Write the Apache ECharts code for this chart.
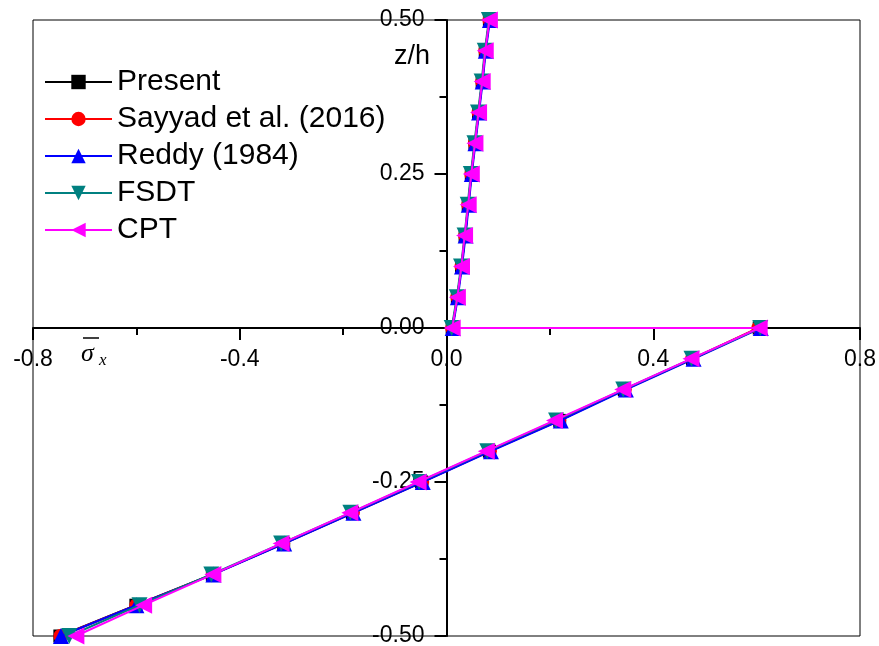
<!DOCTYPE html>
<html><head><meta charset="utf-8">
<script src="https://cdn.jsdelivr.net/npm/echarts@6/dist/echarts.min.js"></script>
<style>html,body{margin:0;padding:0;background:#fff}#c{width:879px;height:646px}</style>
</head><body><div id="c"></div>
<script>
// z/h positions: top half (0.5 -> 0) then bottom half (0 -> -0.5)
const zValues = [0.5,0.45,0.4,0.35,0.3,0.25,0.2,0.15,0.1,0.05,0,
                 0,-0.05,-0.1,-0.15,-0.2,-0.25,-0.3,-0.35,-0.4,-0.45,-0.5];
const seriesNames = ['Present','Sayyad et al. (2016)','Reddy (1984)','FSDT','CPT'];
const presentX = [0.083,0.075,0.069,0.062,0.055,0.048,0.042,0.036,0.029,0.021,0.011,
                  0.605,0.476,0.344,0.219,0.083,-0.048,-0.182,-0.315,-0.453,-0.601,-0.748];
const sayyadX  = [0.083,0.075,0.069,0.062,0.055,0.048,0.042,0.036,0.029,0.021,0.011,
                  0.603,0.475,0.345,0.218,0.084,-0.047,-0.181,-0.316,-0.452,-0.600,-0.747];
const reddyX   = [0.084,0.076,0.070,0.063,0.056,0.049,0.043,0.037,0.030,0.022,0.012,
                  0.608,0.478,0.347,0.221,0.086,-0.046,-0.180,-0.314,-0.451,-0.600,-0.746];
const fsdtX    = [0.082,0.074,0.068,0.061,0.054,0.047,0.041,0.035,0.028,0.020,0.010,
                  0.607,0.474,0.342,0.212,0.079,-0.053,-0.186,-0.320,-0.455,-0.594,-0.730];
const cptX     = [0.083,0.075,0.069,0.062,0.055,0.048,0.042,0.035,0.029,0.021,0.011,
                  0.605,0.473,0.341,0.209,0.077,-0.055,-0.187,-0.320,-0.452,-0.586,-0.717];
const xTicks = [-0.8,-0.4,0.0,0.4,0.8];
const yTicks = [-0.5,-0.25,0,0.25,0.5];

const colors = ['#000000','#ff0000','#0000ff','#008080','#ff00ff'];
const symbols = ['rect','circle','triangle','triangle','triangle'];
const rotations = [0,0,0,180,90];
const sizes = [13,14,16,16,17];
const xs = [presentX,sayyadX,reddyX,fsdtX,cptX];

const FONT = 'Liberation Sans, Arial, sans-serif';
const W = 879, H = 646, GL = 33, GR = 19, GT = 20, GB = 10;
const gw = W - GL - GR, gh = H - GT - GB;
const chart = echarts.init(document.getElementById('c'));
const series = seriesNames.map((n,i)=>({
  name:n, type:'line',
  data: xs[i].map((x,k)=>[x,zValues[k]]),
  symbol: symbols[i], symbolRotate: rotations[i], symbolSize: sizes[i],
  itemStyle:{color:colors[i]}, lineStyle:{color:colors[i], width:2},
  animation:false, z: 2+i
}));
chart.setOption({
  animation:false,
  grid:{left:GL, right:GR, top:GT, bottom:GB, outerBoundsMode:'none', containLabel:false,
        show:true, borderColor:'#000', borderWidth:1, backgroundColor:'transparent'},
  legend:{
    orient:'vertical', left:39, top:61,
    itemWidth:67, itemHeight:18, itemGap:5,
    textStyle:{fontFamily:FONT, fontSize:30, color:'#000', lineHeight:32},
    data: seriesNames
  },
  xAxis:{
    type:'value', min:-0.8, max:0.8, interval:0.4,
    position:'bottom', offset:-gh/2,
    axisLine:{onZero:false, lineStyle:{color:'#000', width:2}},
    axisTick:{show:true, inside:false, length:12, lineStyle:{color:'#000', width:2}},
    minorTick:{show:true, splitNumber:2, length:7, lineStyle:{color:'#000', width:2}},
    splitLine:{show:false},
    axisLabel:{fontFamily:FONT, fontSize:23, color:'#000', margin:20,
      formatter:v=>{const t=xTicks.find(a=>Math.abs(a-v)<1e-9); return t===undefined?'':t.toFixed(1);}}
  },
  yAxis:{
    type:'value', min:-0.5, max:0.5, interval:0.25,
    position:'left', offset:-gw/2,
    axisLine:{onZero:false, lineStyle:{color:'#000', width:2}},
    axisTick:{show:true, inside:false, length:12, lineStyle:{color:'#000', width:2}},
    minorTick:{show:true, splitNumber:2, length:7, lineStyle:{color:'#000', width:2}},
    splitLine:{show:false},
    axisLabel:{fontFamily:FONT, fontSize:23, color:'#000', margin:22,
      formatter:v=>{const t=yTicks.find(a=>Math.abs(a-v)<1e-9); return t===undefined?'':t.toFixed(2);}}
  },
  graphic:[
    {type:'text', left:394, top:43, style:{text:'z/h', font:'27px '+FONT, fill:'#000'}},
    {type:'text', left:81, top:341, style:{text:'σ', font:'italic 26px Liberation Serif, serif', fill:'#000'}},
    {type:'text', left:99, top:352, style:{text:'x', font:'italic 17px Liberation Serif, serif', fill:'#000'}},
    {type:'line', shape:{x1:83, y1:338, x2:99, y2:338}, style:{stroke:'#000', lineWidth:1.5}}
  ],
  series: series
});
</script></body></html>
